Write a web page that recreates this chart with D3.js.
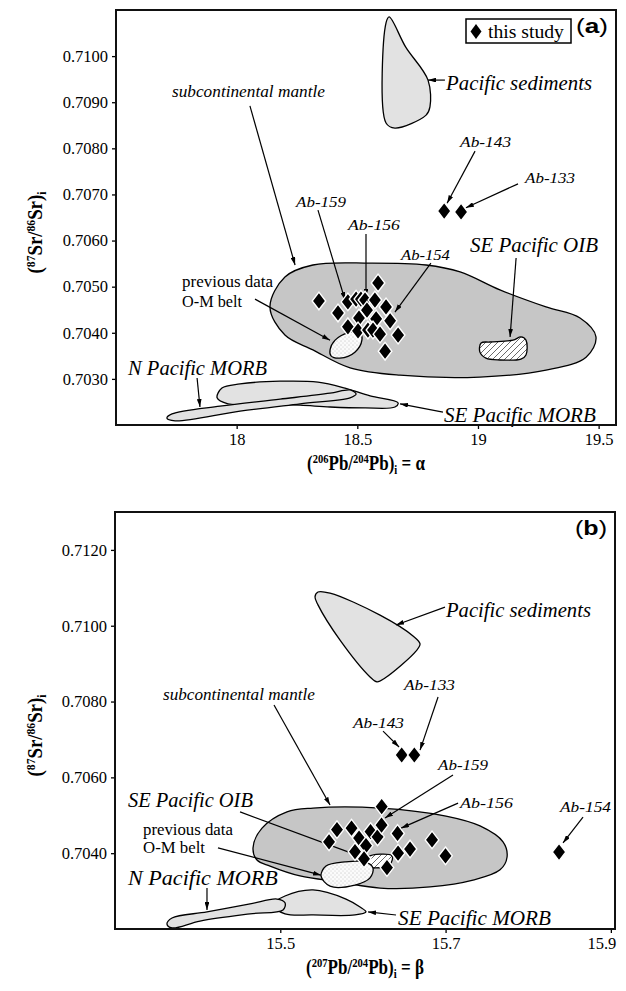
<!DOCTYPE html>
<html>
<head>
<meta charset="utf-8">
<script src="https://cdn.jsdelivr.net/npm/d3@7"></script>
<style>
    body { margin: 0; background: #fff; }
    svg { display: block; }
    text { font-family: 'Liberation Serif', 'Times New Roman', serif; fill: #000; }
</style>
</head>
<body>
<svg id="chart" width="626" height="991"></svg>
<script>
// ---- panel (a): (206Pb/204Pb)i vs (87Sr/86Sr)i, this study
const studyPb206 = [18.341, 18.586, 18.461, 18.420, 18.495, 18.515, 18.532, 18.573, 18.619, 18.540,
    18.507, 18.578, 18.636, 18.461, 18.503, 18.544, 18.565, 18.594, 18.669, 18.615, 18.860, 18.930];
const studySrA = [0.70469, 0.70508, 0.70467, 0.70443, 0.70473, 0.70473, 0.70471, 0.70471, 0.70456, 0.70449,
    0.70432, 0.70430, 0.70426, 0.70413, 0.70404, 0.70406, 0.70406, 0.70397, 0.70395, 0.70360, 0.70664, 0.70662];

// ---- panel (b): (207Pb/204Pb)i vs (87Sr/86Sr)i, this study
const studyPb207 = [15.6227, 15.5686, 15.5590, 15.5862, 15.5953, 15.6092, 15.6177, 15.6225, 15.6419, 15.6037,
    15.5904, 15.6013, 15.6425, 15.6570, 15.6291, 15.6836, 15.6999, 15.6469, 15.6622, 15.8373];
const studySrB = [0.70523, 0.70462, 0.70430, 0.70466, 0.70440, 0.70457, 0.70443, 0.70474, 0.70452, 0.70420,
    0.70404, 0.70385, 0.70400, 0.70411, 0.70362, 0.70435, 0.70393, 0.70659, 0.70659, 0.70403];

// ---- reference fields, outlines in data units
const sedimentsA = [[18.632, 0.71085], [18.700, 0.71020], [18.793, 0.70948], [18.801, 0.70890], [18.785, 0.70872],
    [18.656, 0.70844], [18.619, 0.70855], [18.619, 0.71072]];
const mantleA = [[18.138, 0.70456], [18.200, 0.70521], [18.316, 0.70547], [18.553, 0.70551], [18.785, 0.70547],
    [18.926, 0.70532], [19.091, 0.70493], [19.282, 0.70456], [19.423, 0.70432], [19.489, 0.70391], [19.448, 0.70347],
    [19.282, 0.70319], [19.008, 0.70304], [18.677, 0.70308], [18.470, 0.70324], [18.316, 0.70363], [18.200, 0.70395]];
const oibA = [[19.013, 0.70378], [19.050, 0.70380], [19.145, 0.70384], [19.178, 0.70391], [19.199, 0.70384],
    [19.199, 0.70352], [19.178, 0.70343], [19.091, 0.70341], [19.033, 0.70345], [19.008, 0.70358]];
const omBeltA = [[18.387, 0.70363], [18.408, 0.70384], [18.461, 0.70400], [18.511, 0.70400], [18.519, 0.70384],
    [18.490, 0.70358], [18.428, 0.70345], [18.391, 0.70350]];
const seMorbA = [[17.919, 0.70259], [17.939, 0.70280], [18.014, 0.70289], [18.180, 0.70295], [18.337, 0.70293],
    [18.449, 0.70280], [18.553, 0.70263], [18.669, 0.70248], [18.656, 0.70239], [18.532, 0.70237], [18.387, 0.70239],
    [18.263, 0.70243], [18.097, 0.70246], [17.964, 0.70246]];
const nMorbA = [[17.711, 0.70215], [17.732, 0.70224], [17.931, 0.70241], [18.180, 0.70256], [18.387, 0.70269],
    [18.470, 0.70276], [18.495, 0.70267], [18.470, 0.70259], [18.263, 0.70246], [18.014, 0.70230], [17.745, 0.70209]];

const sedimentsB = [[15.5456, 0.71089], [15.5602, 0.71086], [15.6207, 0.71028], [15.6606, 0.70973], [15.6691, 0.70952],
    [15.6642, 0.70933], [15.6267, 0.70862], [15.6170, 0.70852], [15.6086, 0.70865], [15.5723, 0.70962],
    [15.5456, 0.71055], [15.5420, 0.71076]];
const mantleB = [[15.4670, 0.70414], [15.4779, 0.70466], [15.5081, 0.70509], [15.5396, 0.70519], [15.6207, 0.70519],
    [15.7005, 0.70498], [15.7417, 0.70472], [15.7695, 0.70430], [15.7744, 0.70390], [15.7659, 0.70356],
    [15.7332, 0.70329], [15.6812, 0.70311], [15.6207, 0.70308], [15.5723, 0.70324], [15.5239, 0.70340],
    [15.4876, 0.70366], [15.4718, 0.70382]];
const oibB = [[15.6062, 0.70390], [15.6352, 0.70393], [15.6328, 0.70371], [15.6146, 0.70361], [15.6037, 0.70366]];
const omBeltB = [[15.5493, 0.70340], [15.5553, 0.70366], [15.5783, 0.70377], [15.6025, 0.70377], [15.6122, 0.70361],
    [15.6086, 0.70335], [15.5904, 0.70316], [15.5602, 0.70313]];
const seMorbB = [[15.4900, 0.70263], [15.5057, 0.70287], [15.5396, 0.70303], [15.5795, 0.70279], [15.5965, 0.70258],
    [15.6037, 0.70245], [15.5904, 0.70237], [15.5396, 0.70237], [15.5057, 0.70240]];
const nMorbB = [[15.3629, 0.70213], [15.3690, 0.70229], [15.4113, 0.70245], [15.4634, 0.70266], [15.4960, 0.70279],
    [15.5057, 0.70269], [15.5033, 0.70250], [15.4634, 0.70240], [15.4029, 0.70221], [15.3690, 0.70203]];

// ---- ticks
const srTicksA = [0.703, 0.704, 0.705, 0.706, 0.707, 0.708, 0.709, 0.710];
const pb206Ticks = [18, 18.5, 19, 19.5];
const srTicksB = [0.704, 0.706, 0.708, 0.710, 0.712];
const pb207Ticks = [15.5, 15.7, 15.9];

const svg = d3.select('#chart');
const defs = svg.append('defs');

defs.append('marker')
    .attr('id', 'arrow')
    .attr('viewBox', '0 0 10 6')
    .attr('refX', 10)
    .attr('refY', 3)
    .attr('markerWidth', 8)
    .attr('markerHeight', 4.8)
    .attr('markerUnits', 'userSpaceOnUse')
    .attr('orient', 'auto')
    .append('path')
    .attr('d', 'M0,0L10,3L0,6Z')
    .attr('fill', '#000');

const hatch = defs.append('pattern')
    .attr('id', 'hatch')
    .attr('patternUnits', 'userSpaceOnUse')
    .attr('width', 6)
    .attr('height', 6);
hatch.append('rect').attr('width', 6).attr('height', 6).attr('fill', '#fff');
hatch.append('path')
    .attr('d', 'M-1,1L1,-1M0,6L6,0M5,7L7,5')
    .attr('stroke', '#444')
    .attr('stroke-width', 0.8);

const dots = defs.append('pattern')
    .attr('id', 'dots')
    .attr('patternUnits', 'userSpaceOnUse')
    .attr('width', 4)
    .attr('height', 4);
dots.append('rect').attr('width', 4).attr('height', 4).attr('fill', '#fbfbfb');
dots.append('circle').attr('cx', 1).attr('cy', 1).attr('r', 0.45).attr('fill', '#777');
dots.append('circle').attr('cx', 3).attr('cy', 3).attr('r', 0.45).attr('fill', '#999');

// squeeze a text node to the width it has in the figure
function fitText(sel, x, y, width, extra = '') {
    const len = sel.node().getComputedTextLength();
    const k = width ? width / len : 1;
    sel.attr('transform', `translate(${x},${y}) ${extra} scale(${k},1)`);
    return sel;
}

function richText(g, segs, size) {
    const t = g.append('text')
        .attr('font-size', size)
        .attr('font-weight', 'bold')
        .attr('text-anchor', 'middle');
    let shift = 0;
    segs.forEach(s => {
        const target = s.sup ? -0.36 * size : s.sub ? 0.22 * size : 0;
        t.append('tspan')
            .attr('dy', target - shift)
            .attr('font-size', s.sup || s.sub ? size * 0.62 : size)
            .text(s.t);
        shift = target;
    });
    return t;
}

function diamond(w, h) {
    return `M0,${-h}L${w},0L0,${h}L${-w},0Z`;
}

function drawPanel(p) {
    const g = svg.append('g');
    const x = d3.scaleLinear().domain(p.xDomain).range([p.left, p.right]);
    const y = d3.scaleLinear().domain(p.yDomain).range([p.bottom, p.top]);
    const outline = d3.line()
        .x(d => x(d[0]))
        .y(d => y(d[1]))
        .curve(d3.curveCatmullRomClosed.alpha(0.5));

    g.selectAll('path.field')
        .data(p.fields)
        .enter()
        .append('path')
        .attr('class', 'field')
        .attr('d', d => outline(d.pts))
        .attr('fill', d => d.fill)
        .attr('stroke', '#000')
        .attr('stroke-width', 1.3)
        .attr('stroke-linejoin', 'round');

    g.selectAll('line.pointer')
        .data(p.arrows)
        .enter()
        .append('line')
        .attr('class', 'pointer')
        .attr('x1', d => x(d[0][0]))
        .attr('y1', d => y(d[0][1]))
        .attr('x2', d => x(d[1][0]))
        .attr('y2', d => y(d[1][1]))
        .attr('stroke', '#000')
        .attr('stroke-width', 1.2)
        .attr('marker-end', 'url(#arrow)');

    g.selectAll('path.sample')
        .data(p.xs.map((v, i) => [v, p.ys[i]]))
        .enter()
        .append('path')
        .attr('class', 'sample')
        .attr('transform', d => `translate(${x(d[0])},${y(d[1])})`)
        .attr('d', diamond(6.8, 8.8))
        .attr('fill', '#000')
        .attr('stroke', '#fff')
        .attr('stroke-width', 1.4);

    p.labels.forEach(l => {
        const t = g.append('text')
            .attr('font-size', l.size)
            .attr('font-style', l.italic ? 'italic' : null)
            .text(l.text);
        fitText(t, x(l.at[0]), y(l.at[1]), l.w);
    });

    // axes
    const yAxis = g.append('g')
        .attr('transform', `translate(${p.left},0)`)
        .call(d3.axisLeft(y).tickValues(p.yTicks).tickSize(4).tickPadding(4).tickFormat(d3.format('.4f')));
    const xAxis = g.append('g')
        .attr('transform', `translate(0,${p.bottom})`)
        .call(d3.axisBottom(x).tickValues(p.xTicks).tickSize(4).tickPadding(4).tickFormat(d => String(d)));
    [xAxis, yAxis].forEach(a => {
        a.select('.domain').remove();
        a.selectAll('line').attr('stroke', '#000').attr('stroke-width', 1.3);
        a.selectAll('text')
            .attr('font-size', 16.5)
            .attr('fill', '#000');
    });
    if (p.lastXLabelEnd) {
        xAxis.selectAll('.tick:last-of-type text').attr('text-anchor', 'end').attr('x', 5);
    }

    g.append('rect')
        .attr('x', p.left)
        .attr('y', p.top)
        .attr('width', p.right - p.left)
        .attr('height', p.bottom - p.top)
        .attr('fill', 'none')
        .attr('stroke', '#111')
        .attr('stroke-width', 2);

    // panel tag
    const tag = g.append('text')
        .style('font-family', "'Liberation Sans', Arial, sans-serif")
        .attr('font-size', 21);
    tag.append('tspan').text('(');
    tag.append('tspan').attr('font-weight', 'bold').text(p.tag);
    tag.append('tspan').text(')');
    fitText(tag, p.right - 40, p.top + 23, 32);

    // axis titles
    const xt = richText(g, p.xTitle, 20);
    fitText(xt, (p.left + p.right) / 2, p.bottom + 45, 118);
    const yt = richText(g, [
        { t: '(' }, { t: '87', sup: true }, { t: 'Sr/' }, { t: '86', sup: true }, { t: 'Sr)' }, { t: 'i', sub: true }
    ], 20);
    fitText(yt, 42, (p.top + p.bottom) / 2 + p.yTitleShift, 82, 'rotate(-90)');

    return g;
}

const panelA = drawPanel({
    left: 116, right: 616, top: 10, bottom: 425,
    xDomain: [17.5, 19.572], yDomain: [0.702, 0.711],
    xTicks: pb206Ticks, yTicks: srTicksA,
    tag: 'a', yTitleShift: 15,
    xTitle: [{ t: '(' }, { t: '206', sup: true }, { t: 'Pb/' }, { t: '204', sup: true }, { t: 'Pb)' }, { t: 'i', sub: true }, { t: ' = α' }],
    xs: studyPb206, ys: studySrA,
    fields: [
        { pts: mantleA, fill: '#c6c6c6' },
        { pts: sedimentsA, fill: '#e2e2e2' },
        { pts: oibA, fill: 'url(#hatch)' },
        { pts: seMorbA, fill: '#e2e2e2' },
        { pts: nMorbA, fill: '#e2e2e2' },
        { pts: omBeltA, fill: 'url(#dots)' },
    ],
    arrows: [
        [[18.863, 0.70948], [18.793, 0.70948]],
        [[18.055, 0.70892], [18.242, 0.70547]],
        [[18.337, 0.70666], [18.449, 0.70471]],
        [[18.536, 0.70614], [18.536, 0.70478]],
        [[18.805, 0.70551], [18.656, 0.70445]],
        [[18.988, 0.70794], [18.872, 0.70681]],
        [[19.166, 0.70723], [18.950, 0.70671]],
        [[19.158, 0.70562], [19.133, 0.70391]],
        [[18.076, 0.70473], [18.387, 0.70384]],
        [[17.836, 0.70302], [17.848, 0.70239]],
        [[18.855, 0.70228], [18.677, 0.70246]],
    ],
    labels: [
        { text: 'Pacific sediments', at: [18.868, 0.70927], w: 146, size: 20, italic: true },
        { text: 'subcontinental mantle', at: [17.732, 0.70911], w: 153, size: 17, italic: true },
        { text: 'Ab-159', at: [18.246, 0.70673], w: 50, size: 15, italic: true },
        { text: 'Ab-156', at: [18.461, 0.70623], w: 52, size: 15, italic: true },
        { text: 'Ab-154', at: [18.681, 0.70558], w: 49, size: 15, italic: true },
        { text: 'Ab-143', at: [18.926, 0.70803], w: 51, size: 15, italic: true },
        { text: 'Ab-133', at: [19.195, 0.70725], w: 50, size: 15, italic: true },
        { text: 'SE Pacific OIB', at: [18.967, 0.70575], w: 128, size: 20, italic: true },
        { text: 'previous data', at: [17.774, 0.70499], w: 91, size: 17 },
        { text: 'O-M belt', at: [17.774, 0.70456], w: 60, size: 17 },
        { text: 'N Pacific MORB', at: [17.550, 0.70308], w: 139, size: 20, italic: true },
        { text: 'SE Pacific MORB', at: [18.859, 0.70207], w: 152, size: 20, italic: true },
    ],
});

// legend of panel (a)
const legend = panelA.append('g').attr('transform', 'translate(466,19)');
legend.append('rect')
    .attr('width', 105)
    .attr('height', 24)
    .attr('fill', '#fff')
    .attr('stroke', '#000')
    .attr('stroke-width', 1.5);
legend.append('path')
    .attr('transform', 'translate(10,12.5)')
    .attr('d', diamond(5.5, 7.5))
    .attr('fill', '#000');
fitText(legend.append('text').attr('font-size', 19).text('this study'), 22, 19, 76);

drawPanel({
    left: 115, right: 615, top: 512, bottom: 929,
    xDomain: [15.3, 15.905], yDomain: [0.702, 0.713],
    xTicks: pb207Ticks, yTicks: srTicksB, lastXLabelEnd: true,
    tag: 'b', yTitleShift: 15,
    xTitle: [{ t: '(' }, { t: '207', sup: true }, { t: 'Pb/' }, { t: '204', sup: true }, { t: 'Pb)' }, { t: 'i', sub: true }, { t: ' = β' }],
    xs: studyPb207, ys: studySrB,
    fields: [
        { pts: sedimentsB, fill: '#e2e2e2' },
        { pts: mantleB, fill: '#c6c6c6' },
        { pts: oibB, fill: 'url(#hatch)' },
        { pts: omBeltB, fill: 'url(#dots)' },
        { pts: seMorbB, fill: '#e2e2e2' },
        { pts: nMorbB, fill: '#e2e2e2' },
    ],
    arrows: [
        [[15.6993, 0.71049], [15.6400, 0.71002]],
        [[15.4924, 0.70791], [15.5602, 0.70527]],
        [[15.6909, 0.70812], [15.6691, 0.70672]],
        [[15.6243, 0.70722], [15.6437, 0.70680]],
        [[15.7090, 0.70606], [15.6267, 0.70493]],
        [[15.7151, 0.70532], [15.6461, 0.70466]],
        [[15.8663, 0.70495], [15.8421, 0.70427]],
        [[15.4513, 0.70509], [15.6049, 0.70385]],
        [[15.4246, 0.70414], [15.5493, 0.70342]],
        [[15.4113, 0.70308], [15.4113, 0.70250]],
        [[15.6400, 0.70237], [15.6062, 0.70245]],
    ],
    labels: [
        { text: 'Pacific sediments', at: [15.7005, 0.71023], w: 145, size: 20, italic: true },
        { text: 'subcontinental mantle', at: [15.3581, 0.70804], w: 152, size: 17, italic: true },
        { text: 'Ab-133', at: [15.6497, 0.70830], w: 51, size: 15, italic: true },
        { text: 'Ab-143', at: [15.5880, 0.70730], w: 51, size: 15, italic: true },
        { text: 'Ab-159', at: [15.6909, 0.70619], w: 50, size: 15, italic: true },
        { text: 'Ab-156', at: [15.7175, 0.70519], w: 53, size: 15, italic: true },
        { text: 'Ab-154', at: [15.8385, 0.70509], w: 51, size: 15, italic: true },
        { text: 'SE Pacific OIB', at: [15.3157, 0.70522], w: 125, size: 20, italic: true },
        { text: 'previous data', at: [15.3339, 0.70448], w: 90, size: 17 },
        { text: 'O-M belt', at: [15.3339, 0.70400], w: 62, size: 17 },
        { text: 'N Pacific MORB', at: [15.3157, 0.70316], w: 150, size: 20, italic: true },
        { text: 'SE Pacific MORB', at: [15.6425, 0.70211], w: 153, size: 20, italic: true },
    ],
});
</script>
</body>
</html>
